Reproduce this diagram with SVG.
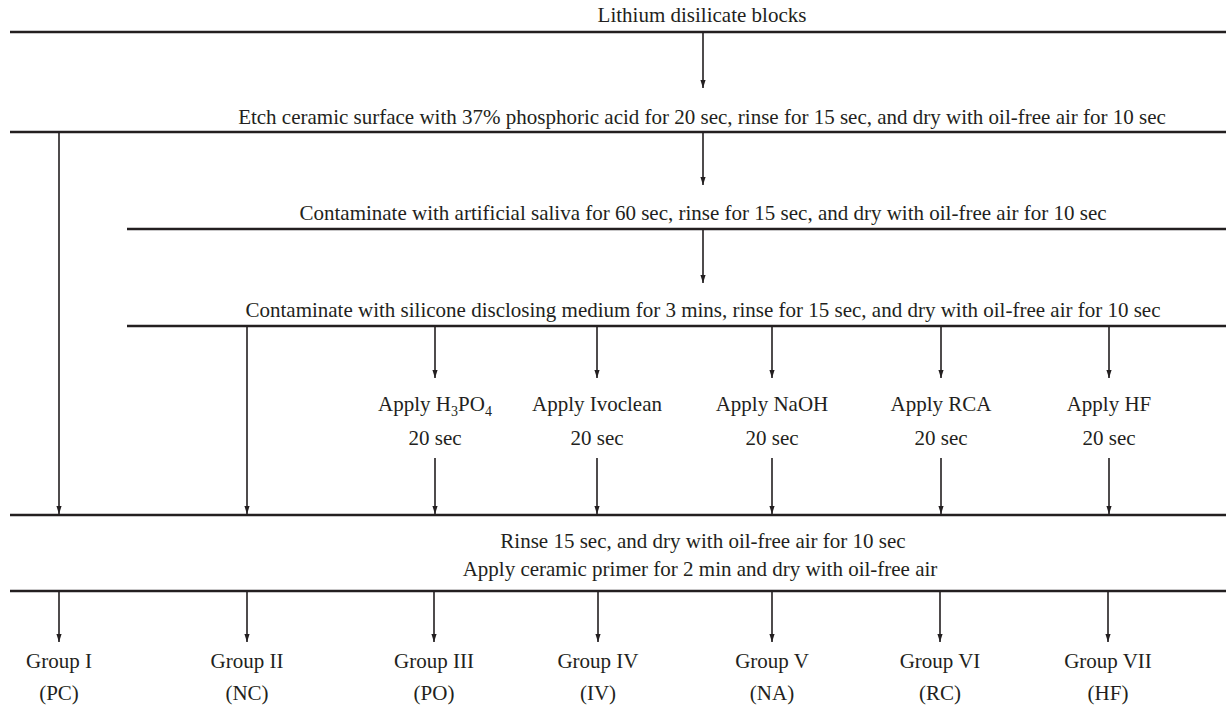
<svg xmlns="http://www.w3.org/2000/svg" width="1226" height="710" viewBox="0 0 1226 710">
<style>
text{font-family:"Liberation Serif","Times New Roman",serif;font-size:21px;fill:#231f20;text-anchor:middle}
.bar{stroke:#231f20;stroke-width:2.5;fill:none}
.arr{stroke:#231f20;stroke-width:1.6;fill:none;marker-end:url(#ah)}
</style>
<defs>
<marker id="ah" viewBox="0 0 8 6" refX="8" refY="3" markerWidth="8" markerHeight="6" markerUnits="userSpaceOnUse" orient="auto">
<path d="M0,0.4 L8,3 L0,5.6 z" fill="#231f20"/>
</marker>
</defs>
<rect width="1226" height="710" fill="#fff"/>
<g id="n-blocks"><text x="702" y="22">Lithium disilicate blocks</text><line class="bar" x1="10" y1="32" x2="1226" y2="32"/></g>
<g id="n-etch"><text x="702" y="124">Etch ceramic surface with 37% phosphoric acid for 20 sec, rinse for 15 sec, and dry with oil-free air for 10 sec</text><line class="bar" x1="10" y1="132" x2="1226" y2="132"/></g>
<g id="n-saliva"><text x="703" y="220">Contaminate with artificial saliva for 60 sec, rinse for 15 sec, and dry with oil-free air for 10 sec</text><line class="bar" x1="127" y1="229" x2="1226" y2="229"/></g>
<g id="n-silicone"><text x="703" y="317">Contaminate with silicone disclosing medium for 3 mins, rinse for 15 sec, and dry with oil-free air for 10 sec</text><line class="bar" x1="127" y1="326" x2="1226" y2="326"/></g>
<g id="n-h3po4"><text x="435" y="411">Apply H<tspan font-size="14" dy="5">3</tspan><tspan dy="-5">PO</tspan><tspan font-size="14" dy="5">4</tspan></text><text x="435" y="445">20 sec</text></g>
<g id="n-ivoclean"><text x="597" y="411">Apply Ivoclean</text><text x="597" y="445">20 sec</text></g>
<g id="n-naoh"><text x="772" y="411">Apply NaOH</text><text x="772" y="445">20 sec</text></g>
<g id="n-rca"><text x="941" y="411">Apply RCA</text><text x="941" y="445">20 sec</text></g>
<g id="n-hf"><text x="1109" y="411">Apply HF</text><text x="1109" y="445">20 sec</text></g>
<g id="n-rinse"><line class="bar" x1="10" y1="515" x2="1226" y2="515"/><text x="703" y="548">Rinse 15 sec, and dry with oil-free air for 10 sec</text><text x="700" y="576">Apply ceramic primer for 2 min and dry with oil-free air</text><line class="bar" x1="10" y1="591" x2="1226" y2="591"/></g>
<g id="g1"><text x="59" y="668">Group I</text><text x="59" y="700">(PC)</text></g>
<g id="g2"><text x="247" y="668">Group II</text><text x="247" y="700">(NC)</text></g>
<g id="g3"><text x="434" y="668">Group III</text><text x="434" y="700">(PO)</text></g>
<g id="g4"><text x="598" y="668">Group IV</text><text x="598" y="700">(IV)</text></g>
<g id="g5"><text x="772" y="668">Group V</text><text x="772" y="700">(NA)</text></g>
<g id="g6"><text x="940" y="668">Group VI</text><text x="940" y="700">(RC)</text></g>
<g id="g7"><text x="1108" y="668">Group VII</text><text x="1108" y="700">(HF)</text></g>
<g id="connectors">
<line class="arr" x1="703" y1="33" x2="703" y2="88"/>
<line class="arr" x1="703" y1="133" x2="703" y2="185"/>
<line class="arr" x1="703" y1="230" x2="703" y2="283"/>
<line class="arr" x1="59" y1="133" x2="59" y2="514"/>
<line class="arr" x1="247" y1="327" x2="247" y2="514"/>
<line class="arr" x1="435" y1="327" x2="435" y2="378"/>
<line class="arr" x1="597" y1="327" x2="597" y2="378"/>
<line class="arr" x1="772" y1="327" x2="772" y2="378"/>
<line class="arr" x1="941" y1="327" x2="941" y2="378"/>
<line class="arr" x1="1109" y1="327" x2="1109" y2="378"/>
<line class="arr" x1="435" y1="458" x2="435" y2="514"/>
<line class="arr" x1="597" y1="458" x2="597" y2="514"/>
<line class="arr" x1="772" y1="458" x2="772" y2="514"/>
<line class="arr" x1="941" y1="458" x2="941" y2="514"/>
<line class="arr" x1="1109" y1="458" x2="1109" y2="514"/>
<line class="arr" x1="59" y1="592" x2="59" y2="642"/>
<line class="arr" x1="247" y1="592" x2="247" y2="642"/>
<line class="arr" x1="434" y1="592" x2="434" y2="642"/>
<line class="arr" x1="598" y1="592" x2="598" y2="642"/>
<line class="arr" x1="772" y1="592" x2="772" y2="642"/>
<line class="arr" x1="940" y1="592" x2="940" y2="642"/>
<line class="arr" x1="1108" y1="592" x2="1108" y2="642"/>
</g>
</svg>
